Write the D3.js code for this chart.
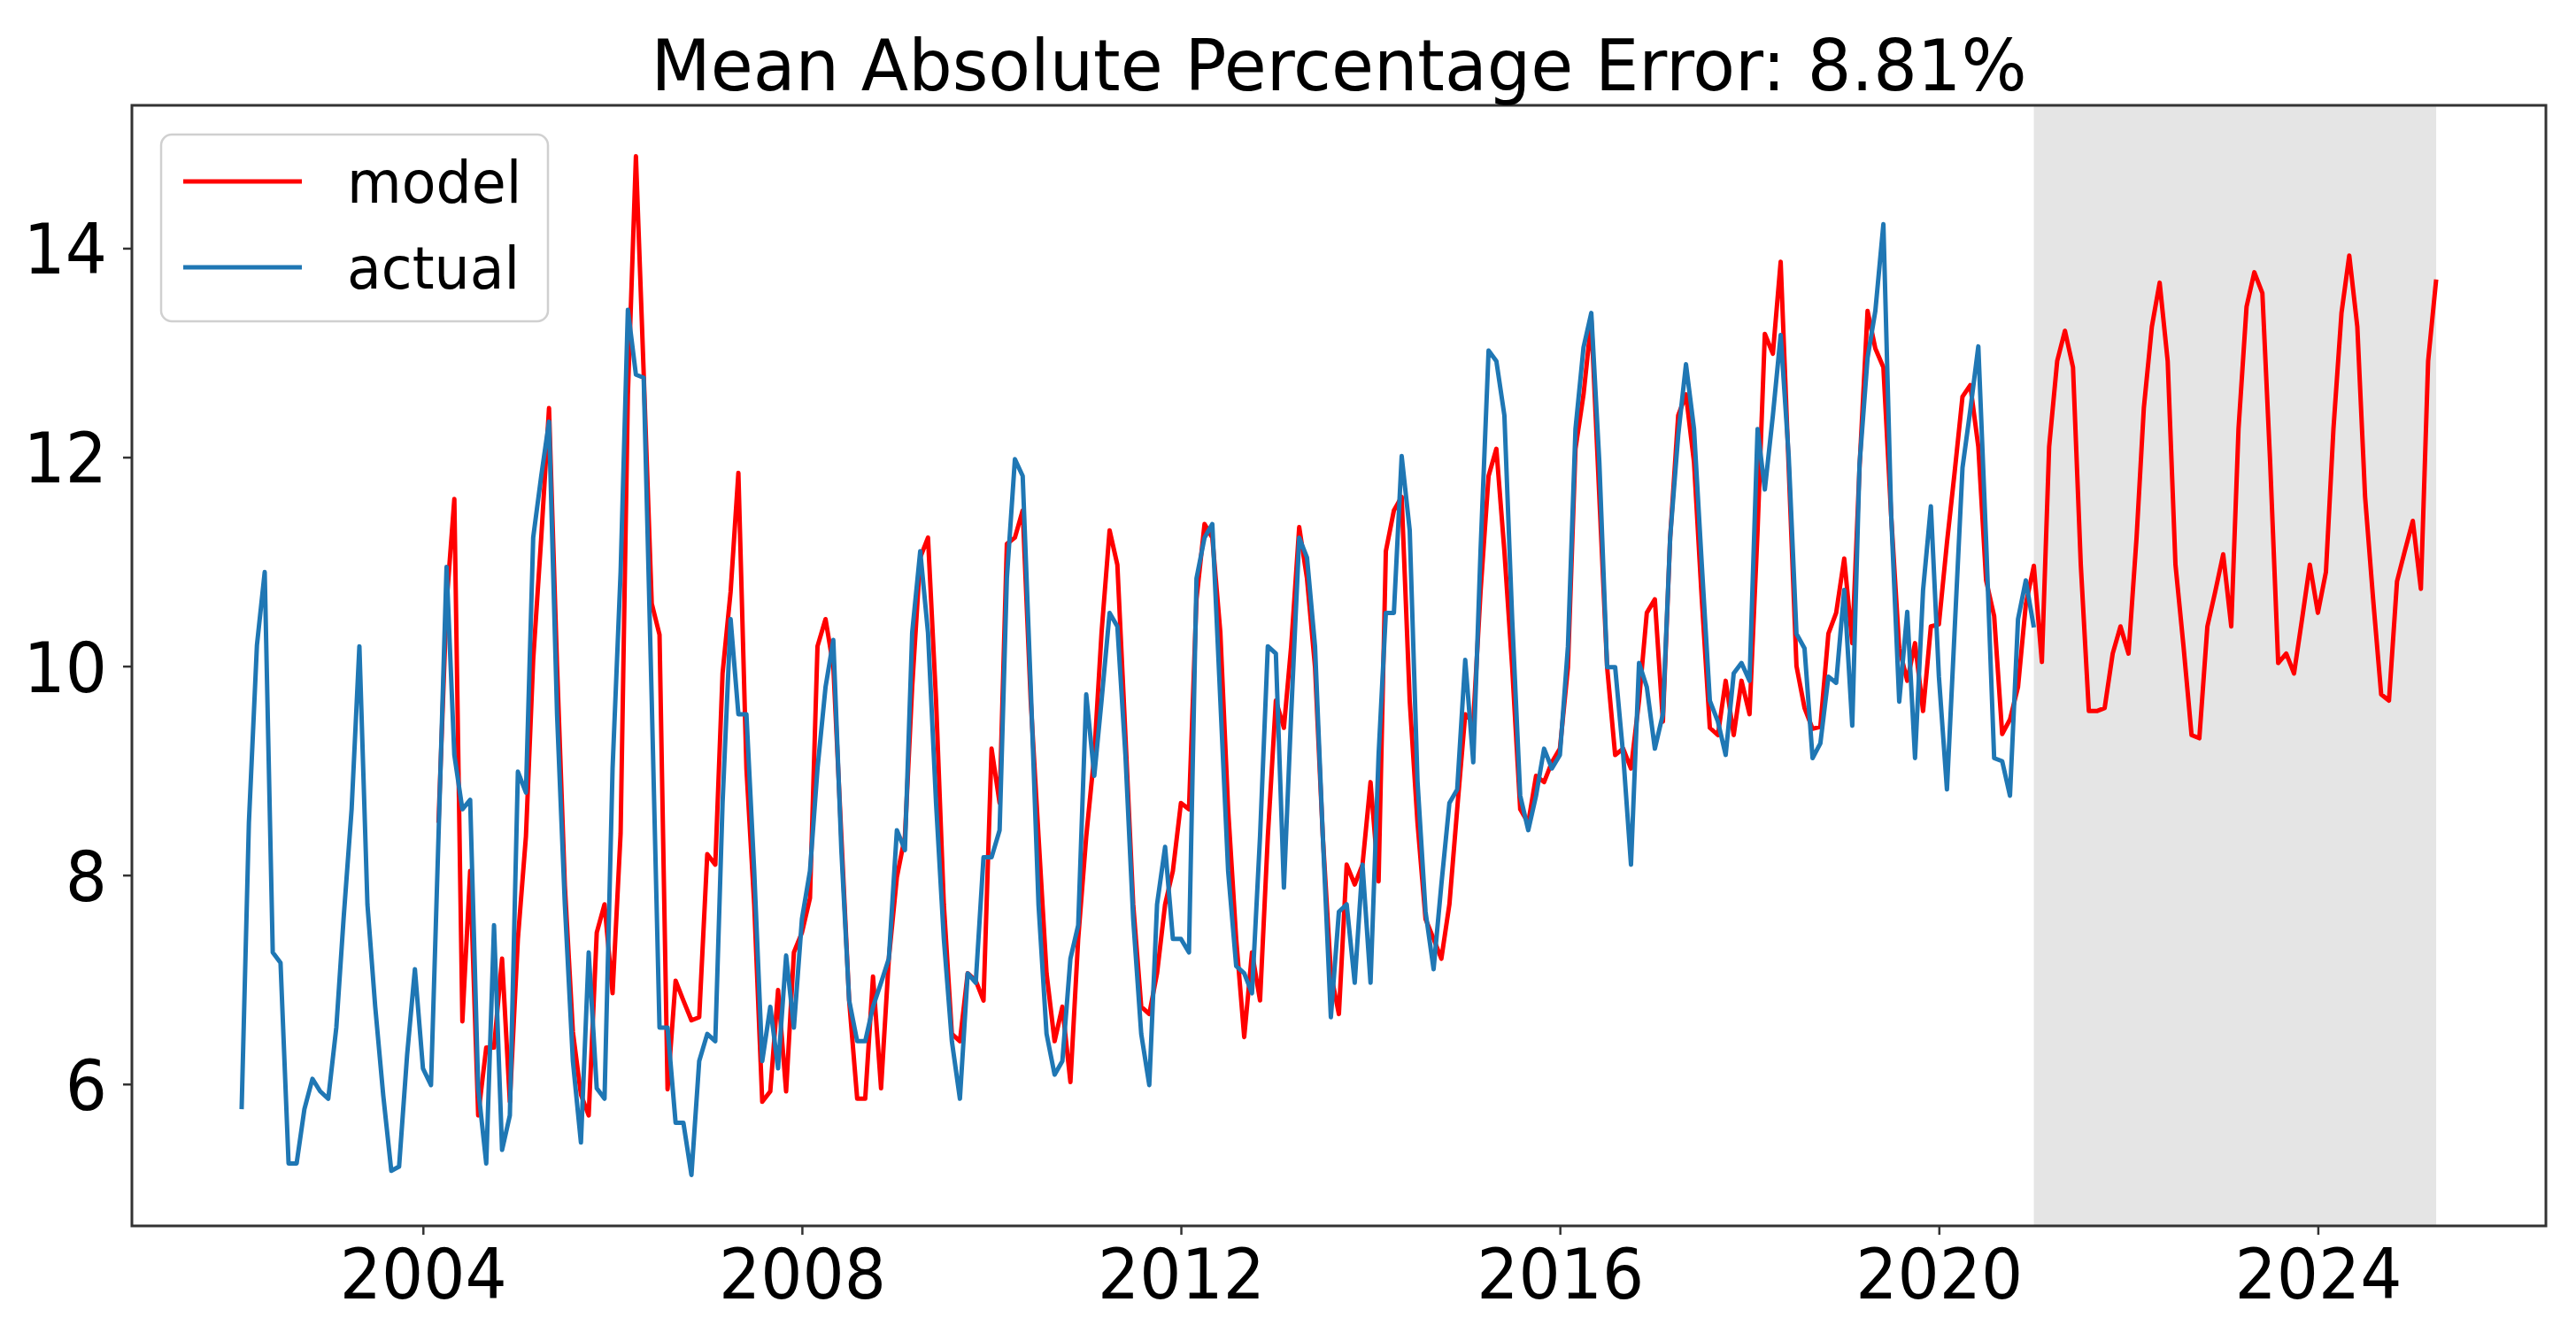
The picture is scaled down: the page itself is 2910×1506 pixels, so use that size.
<!DOCTYPE html>
<html>
<head>
<meta charset="utf-8">
<script src="https://cdn.jsdelivr.net/npm/d3@7/dist/d3.min.js"></script>
<style>
  body { margin: 0; background: #fff; }
  text { font-family: "DejaVu Sans", sans-serif; fill: #000; }
</style>
</head>
<body>
<div id="chart"></div>
<script>
const title = "Mean Absolute Percentage Error: 8.81%";

// monthly series, first point given as [year, monthIndex]
const actualStart = [2002, 1];
const actual = [
  5.76, 8.5, 10.2, 10.9, 7.26, 7.16, 5.24, 5.24, 5.76, 6.05, 5.93,
  5.86, 6.54, 7.58, 8.63, 10.19, 7.72, 6.74, 5.89, 5.17, 5.21, 6.28, 7.10, 6.15,
  5.99, 8.37, 10.95, 9.15, 8.63, 8.72, 5.96, 5.24, 7.52, 5.37, 5.7, 8.99,
  8.79, 11.23, 11.82, 12.34, 9.54, 7.72, 6.22, 5.44, 7.26, 5.96, 5.86, 9.02,
  10.9, 13.41, 12.79, 12.76, 9.67, 6.54, 6.54, 5.63, 5.63, 5.13, 6.22, 6.48,
  6.41, 8.69, 10.45, 9.54, 9.54, 8.04, 6.22, 6.74, 6.15, 7.23, 6.54, 7.58,
  8.04, 9.02, 9.8, 10.25, 8.24, 6.8, 6.41, 6.41, 6.74, 6.97, 7.2, 8.43,
  8.24, 10.32, 11.1, 10.32, 8.69, 7.39, 6.41, 5.86, 7.06, 6.97, 8.17, 8.17,
  8.43, 10.84, 11.98, 11.82, 9.8, 7.72, 6.48, 6.09, 6.22, 7.2, 7.52, 9.73,
  8.95, 9.67, 10.51, 10.38, 9.15, 7.58, 6.48, 5.99, 7.72, 8.27, 7.39, 7.39,
  7.26, 10.84, 11.23, 11.36, 9.67, 8.04, 7.13, 7.06, 6.87, 8.37, 10.19, 10.12,
  7.88, 9.54, 11.23, 11.04, 10.19, 8.37, 6.64, 7.65, 7.72, 6.97, 8.1, 6.97,
  9.15, 10.51, 10.51, 12.01, 11.3, 8.9, 7.65, 7.1, 7.91, 8.69, 8.82, 10.06,
  9.08, 11.1, 13.02, 12.92, 12.4, 10.45, 8.76, 8.43, 8.76, 9.21, 9.02, 9.15,
  10.19, 12.27, 13.05, 13.38, 11.95, 9.99, 9.99, 9.15, 8.1, 10.03, 9.8, 9.21,
  9.54, 11.23, 12.21, 12.89, 12.27, 10.97, 9.67, 9.47, 9.15, 9.93, 10.03, 9.86,
  12.27, 11.69, 12.4, 13.17, 12.01, 10.31, 10.17, 9.12, 9.26, 9.9, 9.84, 10.73,
  9.43, 11.93, 12.95, 13.4, 14.23, 11.45, 9.66, 10.52, 9.12, 10.73, 11.53, 9.9,
  8.82, 10.31, 11.9, 12.45, 13.06, 11.2, 9.12, 9.09, 8.76, 10.45, 10.82, 10.37
];

const modelStart = [2004, 2];
const model = [
  8.5, 10.6, 11.6, 6.6, 8.04, 5.7, 6.35, 6.35, 7.2, 5.83,
  7.39, 8.37, 10.06, 11.23, 12.47, 10.0, 7.9, 6.5, 5.9, 5.7, 7.45, 7.72,
  6.87, 8.4, 12.6, 14.88, 12.8, 10.6, 10.3, 5.95, 6.99, 6.8, 6.61, 6.64,
  8.2, 8.1, 9.93, 10.71, 11.85, 9.02, 7.72, 5.83, 5.93, 6.9, 5.93, 7.26,
  7.45, 7.78, 10.19, 10.45, 10.0, 8.37, 6.8, 5.86, 5.86, 7.03, 5.96, 7.2,
  7.98, 8.37, 9.8, 11.04, 11.23, 9.67, 7.72, 6.48, 6.41, 7.06, 6.99, 6.8,
  9.21, 8.69, 11.17, 11.23, 11.49, 9.67, 8.37, 7.06, 6.41, 6.74, 6.02, 7.39,
  8.37, 9.15, 10.32, 11.3, 10.97, 9.34, 7.72, 6.74, 6.67, 7.06, 7.72, 8.04,
  8.69, 8.63, 10.64, 11.36, 11.23, 10.32, 8.63, 7.39, 6.45, 7.26, 6.8, 8.37,
  9.67, 9.41, 10.19, 11.33, 10.84, 9.99, 8.37, 7.06, 6.67, 8.1, 7.91, 8.1,
  8.89, 7.94, 11.1, 11.49, 11.62, 9.67, 8.5, 7.58, 7.39, 7.2, 7.72, 8.63,
  9.54, 9.47, 10.71, 11.82, 12.08, 11.1, 9.99, 8.63, 8.5, 8.95, 8.89, 9.08,
  9.21, 9.99, 12.08, 12.6, 13.31, 11.62, 9.99, 9.15, 9.21, 9.02, 9.67, 10.51,
  10.64, 9.47, 11.23, 12.4, 12.6, 11.95, 10.64, 9.41, 9.34, 9.86, 9.34, 9.86,
  9.54, 11.3, 13.18, 12.99, 13.87, 11.9, 10.0, 9.6, 9.4, 9.42, 10.31, 10.51,
  11.03, 10.22, 11.9, 13.4, 13.04, 12.86, 11.44, 10.17, 9.86, 10.22, 9.57, 10.38,
  10.4, 11.18, 11.84, 12.58, 12.69, 12.1, 10.82, 10.48, 9.35, 9.49, 9.8, 10.59,
  10.96, 10.04, 12.1, 12.92, 13.21, 12.86, 10.97, 9.57, 9.57, 9.6, 10.12, 10.38,
  10.12, 11.23, 12.47, 13.25, 13.67, 12.92, 10.97, 10.19, 9.34, 9.31, 10.38, 10.71,
  11.07, 10.38, 12.27, 13.44, 13.77, 13.57, 11.95, 10.03, 10.12, 9.93, 10.45, 10.97,
  10.51, 10.9, 12.27, 13.38, 13.93, 13.25, 11.62, 10.64, 9.73, 9.67, 10.81, 11.1,
  11.39, 10.74, 12.92, 13.7
];

// shaded forecast window
const forecastSpan = [[2021, 0], [2025, 3]];

const yTicks = [6, 8, 10, 12, 14];
const xTickYears = [2004, 2008, 2012, 2016, 2020, 2024];
const seriesNames = ["model", "actual"];
const seriesColors = ["#ff0000", "#1f77b4"];

const margin = { top: 119, right: 34, bottom: 121, left: 149 },
      width = 2910 - margin.left - margin.right,
      height = 1506 - margin.top - margin.bottom;

const squeeze = 0.94;

function toPoints(start, values) {
  return values.map((v, i) => ({ date: new Date(start[0], start[1] + i, 1), value: v }));
}

const modelPts = toPoints(modelStart, model);
const actualPts = toPoints(actualStart, actual);
const allPts = modelPts.concat(actualPts);

const svg = d3.select("#chart")
              .append("svg")
              .attr("width", width + margin.left + margin.right)
              .attr("height", height + margin.top + margin.bottom)
              .append("g")
              .attr("transform", `translate(${margin.left},${margin.top})`);

// matplotlib-like 5% margins
const [t0, t1] = d3.extent(allPts, d => +d.date);
const tPad = (t1 - t0) * 0.05;
const x = d3.scaleTime()
            .domain([new Date(t0 - tPad), new Date(t1 + tPad)])
            .range([0, width]);

const [v0, v1] = d3.extent(allPts, d => d.value);
const vPad = (v1 - v0) * 0.05;
const y = d3.scaleLinear()
            .domain([v0 - vPad, v1 + vPad])
            .range([height, 0]);

// forecast band
const f0 = new Date(forecastSpan[0][0], forecastSpan[0][1], 1);
const f1 = new Date(forecastSpan[1][0], forecastSpan[1][1], 1);
svg.append("rect")
   .attr("x", x(f0))
   .attr("y", 0)
   .attr("width", x(f1) - x(f0))
   .attr("height", height)
   .attr("fill", "#e5e5e5");

const line = d3.line()
               .x(d => x(d.date))
               .y(d => y(d.value));

[modelPts, actualPts].forEach((pts, i) => {
  svg.append("path")
     .datum(pts)
     .attr("fill", "none")
     .attr("stroke", seriesColors[i])
     .attr("stroke-width", 5)
     .attr("stroke-linejoin", "round")
     .attr("d", line);
});

// axes
const xAxis = svg.append("g")
                 .attr("transform", `translate(0, ${height})`)
                 .call(d3.axisBottom(x)
                         .tickValues(xTickYears.map(yr => new Date(yr, 0, 1)))
                         .tickFormat(d3.timeFormat("%Y"))
                         .tickSize(10)
                         .tickSizeOuter(0));

const yAxis = svg.append("g")
                 .call(d3.axisLeft(y)
                         .tickValues(yTicks)
                         .tickSize(10)
                         .tickSizeOuter(0));

[xAxis, yAxis].forEach(a => {
  a.select(".domain").remove();
  a.selectAll(".tick line").attr("stroke", "#333").attr("stroke-width", 2.5);
  a.selectAll("text").attr("font-family", "DejaVu Sans").attr("font-size", 79).attr("fill", "#000");
});

xAxis.selectAll("text")
     .attr("y", 82)
     .attr("dy", null)
     .attr("transform", `scale(${squeeze},1)`);

yAxis.selectAll("text")
     .attr("x", -28 / squeeze)
     .attr("dy", "0.36em")
     .attr("transform", `scale(${squeeze},1)`);

// frame
svg.append("rect")
   .attr("width", width)
   .attr("height", height)
   .attr("fill", "none")
   .attr("stroke", "#333")
   .attr("stroke-width", 3);

// title
svg.append("text")
   .attr("transform", `translate(${width / 2}, -17) scale(0.963,1)`)
   .attr("text-anchor", "middle")
   .attr("font-size", 81)
   .text(title);

// legend
const legend = svg.append("g")
                  .attr("transform", "translate(33, 33)");

legend.append("rect")
      .attr("width", 437)
      .attr("height", 211)
      .attr("rx", 12)
      .attr("fill", "#fff")
      .attr("fill-opacity", 0.8)
      .attr("stroke", "#d0d0d0")
      .attr("stroke-width", 2.5);

seriesNames.forEach((name, i) => {
  const cy = 53 + i * 97;
  legend.append("line")
        .attr("x1", 25).attr("x2", 159)
        .attr("y1", cy).attr("y2", cy)
        .attr("stroke", seriesColors[i])
        .attr("stroke-width", 5);
  legend.append("text")
        .attr("transform", `translate(210, ${cy + 24}) scale(0.96,1)`)
        .attr("font-size", 66)
        .text(name);
});
</script>
</body>
</html>
